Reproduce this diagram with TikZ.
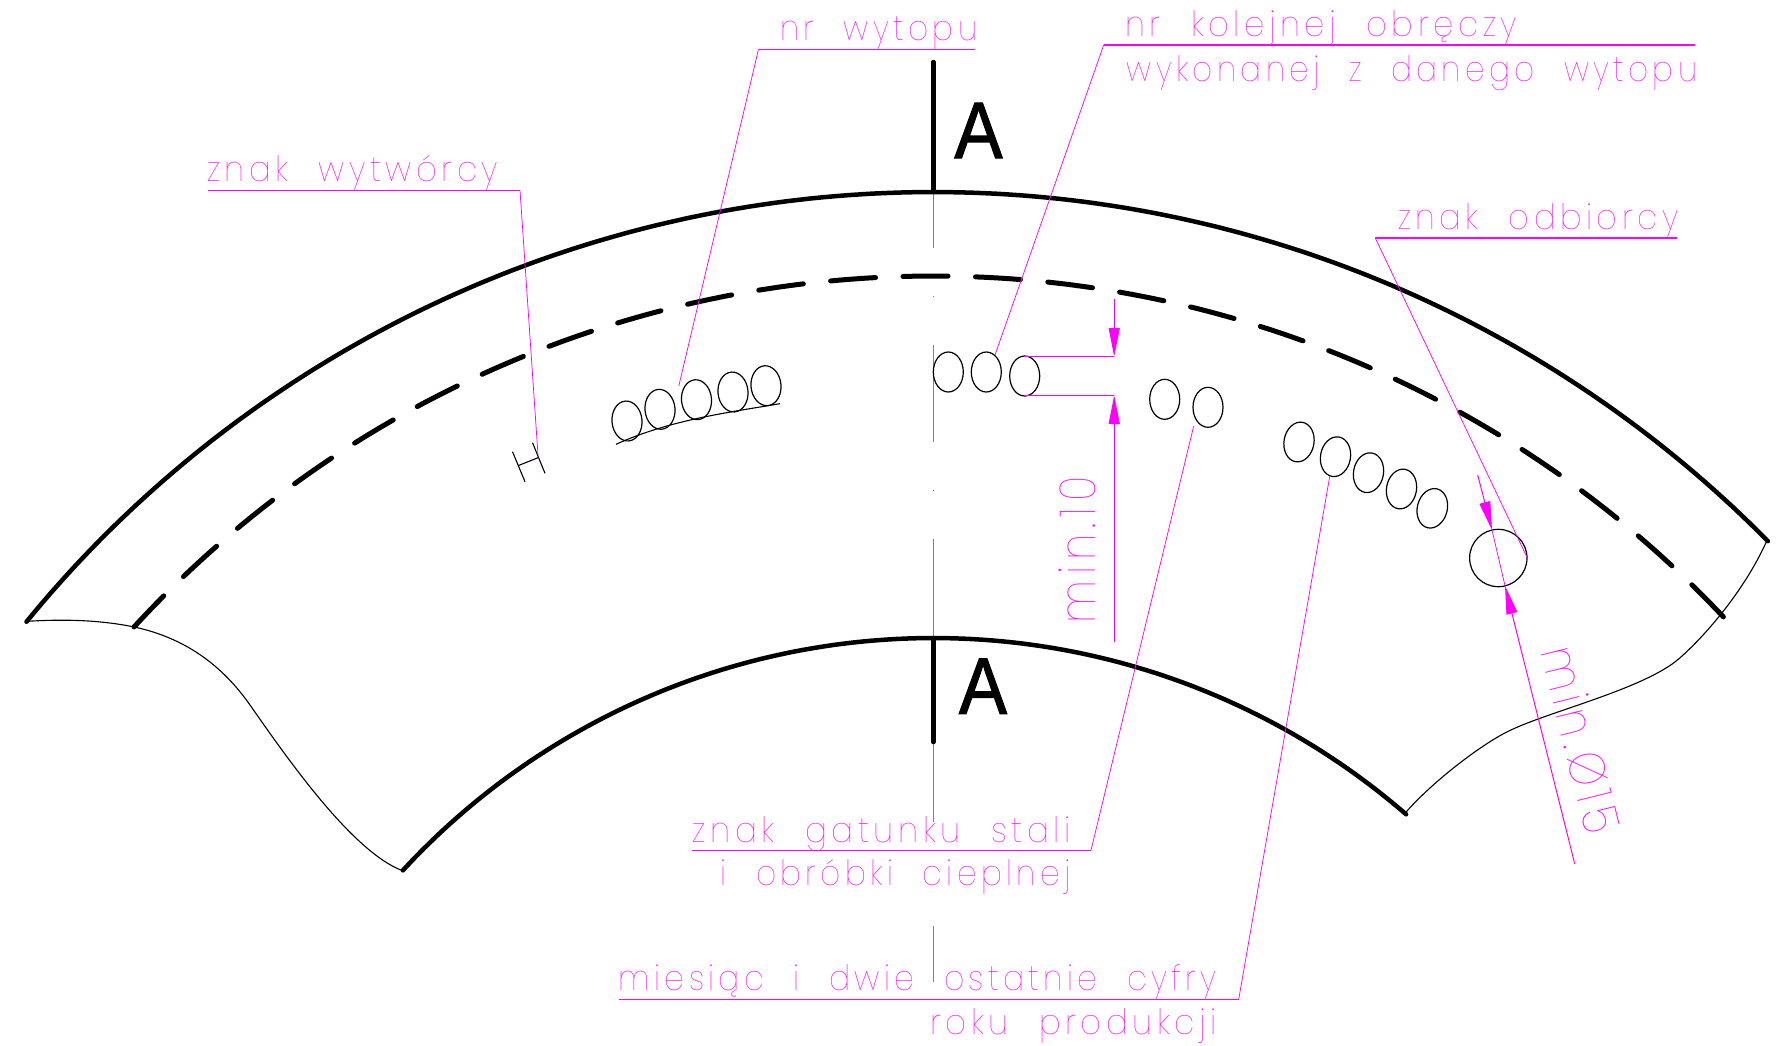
\documentclass[tikz,border=0pt]{standalone}
\usepackage{fontspec}
\usepackage{graphicx}
\usetikzlibrary{arrows.meta}
\newfontfamily\secfont[FakeBold=1.5]{Liberation Sans}
\newfontfamily\cadfont[LetterSpace=14,WordSpace=2.2]{Poppins Thin}
\definecolor{cadm}{HTML}{FF00FF}
\definecolor{cadr}{HTML}{F05050}
\tikzset{
  heavy/.style={line width=4.5pt,line cap=round,black},
  dashheavy/.style={line width=5pt,line cap=round,black,dash pattern=on 45pt off 27.5pt,dash phase=2pt},
  fine/.style={line width=1.1pt,black},
  oval/.style={line width=1.2pt,black},
  leader/.style={line width=.75pt,cadm},
  shelf/.style={line width=1.3pt,cadm},
  axisline/.style={line width=1pt,cadr},
  dimtip/.style={line width=1pt,cadm,-{Triangle[length=28.5pt,width=11pt]}},
  cadlabel/.style={inner sep=0pt,anchor=base west,text=cadm,font=\fontsize{35}{40}\cadfont},
  cadbig/.style={cadlabel,font=\fontsize{50}{56}\cadfont},
  seclabel/.style={inner sep=0pt,anchor=base,font=\fontsize{80}{80}\secfont}
}
\newcommand{\ov}[3]{\draw[oval,shift={(#1,#2)},rotate=#3] (0,0) ellipse [x radius=15pt,y radius=20pt];}
\newcommand{\lab}[5]{\node[cadlabel] (#1) at (#2,#3) {\resizebox{#4pt}{\height}{#5}};}
\begin{document}
\begin{tikzpicture}[x=1pt,y=-1pt]
\useasboundingbox (0,0) rectangle (1786,1045);
\fill[white] (0,0) rectangle (1786,1045);
% centre line
\draw[axisline] (933.4,192)--(933.4,248);
\draw[axisline] (933.4,295.5)--(933.4,297);
\draw[axisline] (933.4,345)--(933.4,441.7);
\draw[axisline] (933.4,489.5)--(933.4,491);
\draw[axisline] (933.4,538.7)--(933.4,822);
\draw[axisline] (933.4,926)--(933.4,982);
% arcs
\draw[heavy] plot[domain=-50.7:45.4,samples=160] ({933.4+1172*sin(\x)},{1364-1172*cos(\x)});
\draw[heavy] plot[domain=-47.3:40.9,samples=120] ({933.4+722*sin(\x)},{1360-722*cos(\x)});
\draw[dashheavy] plot[domain=-47.4:46.7,samples=200] ({933.4+1086*sin(\x)},{1362-1086*cos(\x)});
% section marks
\draw[heavy] (933.4,62)--(933.4,192);
\draw[heavy] (933.4,638)--(933.4,742);
\node[seclabel,xscale=.9] (secA) at (978.5,158) {A};
\node[seclabel,xscale=.9] (secB) at (983,713.7) {A};
% end curves
\draw[fine] (27,621.3) .. controls (65,619) and (100,620) .. (134.4,627)
  .. controls (185,638) and (222,665) .. (250,705)
  .. controls (283,752) and (350,850) .. (401.5,870.3);
\draw[fine] (1405.5,812.7) .. controls (1432,782) and (1485,741) .. (1513.7,728.7)
  .. controls (1555,710) and (1645,688) .. (1679,658.7)
  .. controls (1705,636) and (1745,590) .. (1767,540.3);
% marks
\foreach \a/\b/\r in {627/421/5,660/409.3/5,696.5/399.7/5,733/392/5,766/385.7/5,
  948.3/372/0,986.3/372/0,1024.7/376/0,1164.7/399.3/0,1208/407.3/0,
  1299/442/-10,1335.5/456.7/-10,1368.5/472.7/-10,1401.5/489/-10,1432.3/508.3/-14}{\ov{\a}{\b}{\r}}
\draw[oval] (1498.3,558) circle [radius=28.7pt];
\draw[fine] (616,444.3) .. controls (670,420) and (725,413) .. (780,403.7);
\draw[fine] (512.5,451.7)--(525,481.7);
\draw[fine] (532.5,442.7)--(545,473.3);
\draw[fine] (518,465.7)--(538,457.7);
% labels
\lab{t1}{207}{181.7}{291}{znak wytwórcy}
\lab{t2}{780}{40.7}{197}{nr wytopu}
\lab{t3}{1125}{36.7}{392}{nr kolejnej obręczy}
\lab{t4}{1126.5}{81}{570.5}{wykonanej z danego wytopu}
\lab{t5}{1398}{229.3}{280}{znak odbiorcy}
\lab{t6}{692.5}{842}{378}{znak gatunku stali}
\lab{t7}{720.4}{885.3}{350}{i obróbki cieplnej}
\lab{t8}{618.5}{990.3}{598}{miesiąc i dwie ostatnie cyfry}
\lab{t9}{930}{1034.7}{286.5}{roku produkcji}
\node[cadbig,rotate=90] (t10) at (1095.7,623.7) {\resizebox{147pt}{\height}{min.10}};
\node[cadbig,rotate=-76] (t11) at (1540,651) {\resizebox{191pt}{\height}{min.Ø15}};
% leaders
\coordinate (k1) at (520,190.3);
\coordinate (e1) at (538,455);
\draw[shelf] (208,190.3)--(k1);
\draw[leader] (k1)--(e1);
\coordinate (k2) at (758.5,49.3);
\coordinate (e2) at (678.8,386);
\draw[shelf] (975,49.3)--(k2);
\draw[leader] (k2)--(e2);
\coordinate (k3) at (1103.7,45);
\coordinate (e3) at (995,355);
\draw[shelf] (1694.8,45)--(k3);
\draw[leader] (k3)--(e3);
\coordinate (k5) at (1375.3,238);
\coordinate (e5) at (1527,557.3);
\draw[shelf] (1676.6,238)--(k5);
\draw[leader] (k5)--(e5);
\coordinate (k6) at (1091,850.3);
\coordinate (e6) at (1193.7,426);
\draw[shelf] (692,850.3)--(k6);
\draw[leader] (k6)--(e6);
\coordinate (k8) at (1238.7,999.3);
\coordinate (e8) at (1329.8,476);
\draw[shelf] (619,999.3)--(k8);
\draw[leader] (k8)--(e8);
% dimension min.10
\coordinate (d1) at (1114.2,299.3);
\coordinate (d2) at (1114.2,356.5);
\coordinate (d3) at (1114.2,395.3);
\coordinate (d4) at (1114.2,642);
\draw[shelf] (1024.3,356.5)--(d2);
\draw[shelf] (1024.3,395.3)--(d3);
\draw[dimtip] (d1)--(d2);
\draw[dimtip] (d4)--(d3);
% dimension min.15
\coordinate (f1) at (1477.7,475);
\coordinate (f2) at (1492,530);
\coordinate (f3) at (1505,585.7);
\coordinate (f4) at (1574.7,863.7);
\draw[dimtip] (f1)--(f2);
\draw[dimtip] (f4)--(f3);
\draw[leader] (f2)--(f3);
\end{tikzpicture}
\end{document}
